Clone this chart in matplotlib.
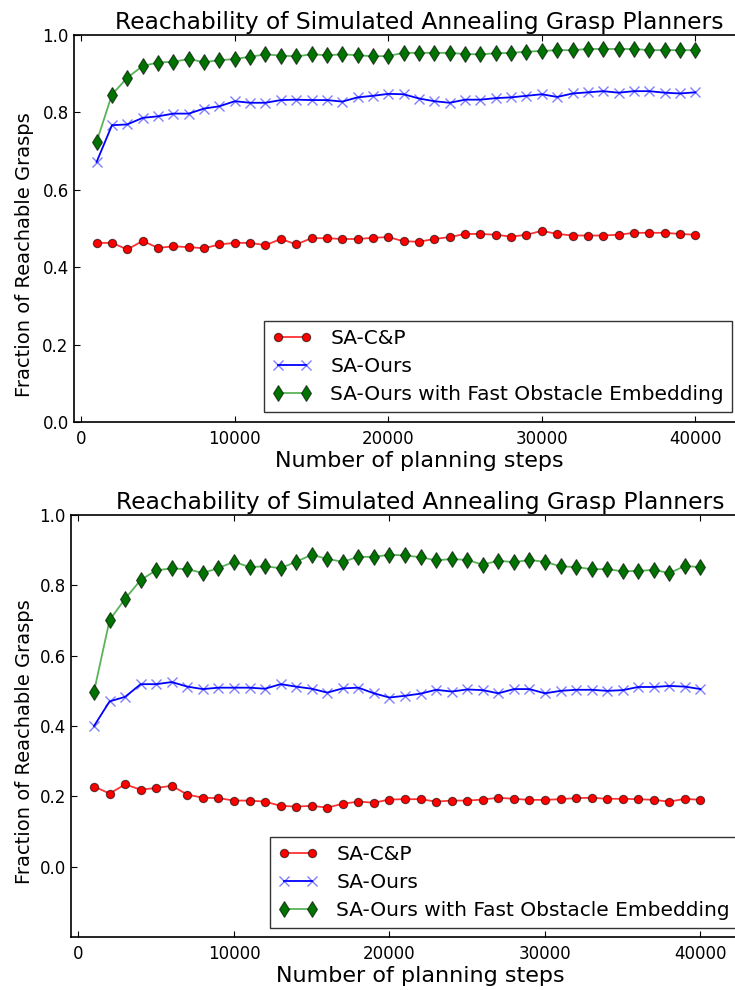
import numpy as np
import matplotlib
matplotlib.use('Agg')
import matplotlib.pyplot as plt

steps = np.arange(1000, 40001, 1000)

# upper panel
cp_top = [0.463, 0.463, 0.446, 0.468, 0.450, 0.454, 0.452, 0.449, 0.459, 0.463,
          0.463, 0.457, 0.473, 0.459, 0.475, 0.475, 0.473, 0.473, 0.476, 0.478,
          0.467, 0.466, 0.473, 0.478, 0.486, 0.486, 0.484, 0.479, 0.484, 0.494,
          0.486, 0.482, 0.482, 0.482, 0.484, 0.489, 0.489, 0.489, 0.486, 0.484]
ours_top = [0.672, 0.767, 0.769, 0.786, 0.790, 0.797, 0.797, 0.810, 0.816, 0.829,
            0.825, 0.825, 0.832, 0.833, 0.832, 0.832, 0.828, 0.839, 0.843, 0.848,
            0.847, 0.836, 0.829, 0.825, 0.833, 0.833, 0.837, 0.839, 0.843, 0.847,
            0.840, 0.849, 0.852, 0.855, 0.851, 0.855, 0.855, 0.851, 0.849, 0.852]
fast_top = [0.724, 0.846, 0.890, 0.920, 0.929, 0.931, 0.938, 0.930, 0.935, 0.938,
            0.944, 0.950, 0.947, 0.945, 0.950, 0.948, 0.950, 0.948, 0.945, 0.946,
            0.954, 0.954, 0.954, 0.954, 0.951, 0.950, 0.953, 0.954, 0.957, 0.959,
            0.961, 0.961, 0.964, 0.964, 0.964, 0.964, 0.961, 0.961, 0.961, 0.961]

# lower panel
cp_bot = [0.228, 0.208, 0.234, 0.219, 0.224, 0.230, 0.205, 0.196, 0.195, 0.188,
          0.188, 0.185, 0.173, 0.171, 0.173, 0.168, 0.179, 0.185, 0.182, 0.191,
          0.192, 0.192, 0.185, 0.188, 0.188, 0.191, 0.196, 0.193, 0.190, 0.190,
          0.192, 0.195, 0.196, 0.193, 0.193, 0.192, 0.190, 0.185, 0.193, 0.190]
ours_bot = [0.400, 0.470, 0.483, 0.519, 0.519, 0.525, 0.512, 0.505, 0.509, 0.509,
            0.509, 0.506, 0.519, 0.512, 0.506, 0.495, 0.507, 0.509, 0.493, 0.481,
            0.486, 0.492, 0.503, 0.498, 0.504, 0.502, 0.493, 0.505, 0.505, 0.493,
            0.500, 0.503, 0.503, 0.500, 0.502, 0.511, 0.511, 0.514, 0.512, 0.505]
fast_bot = [0.498, 0.701, 0.762, 0.815, 0.843, 0.848, 0.846, 0.835, 0.849, 0.867,
            0.852, 0.854, 0.849, 0.867, 0.887, 0.875, 0.867, 0.881, 0.881, 0.887,
            0.885, 0.880, 0.871, 0.875, 0.872, 0.859, 0.870, 0.866, 0.872, 0.867,
            0.854, 0.852, 0.846, 0.846, 0.840, 0.841, 0.844, 0.835, 0.855, 0.852]

labels = ['SA-C&P', 'SA-Ours', 'SA-Ours with Fast Obstacle Embedding']
title = 'Reachability of Simulated Annealing Grasp Planners'

plt.rcParams['font.family'] = 'DejaVu Sans'
plt.rcParams['xtick.direction'] = 'in'
plt.rcParams['ytick.direction'] = 'in'
plt.rcParams['xtick.top'] = True
plt.rcParams['ytick.right'] = True
plt.rcParams['xtick.major.size'] = 4
plt.rcParams['ytick.major.size'] = 4

fig = plt.figure(figsize=(7.35, 9.9), dpi=100)
fig.patch.set_facecolor('white')

ax1 = fig.add_axes([0.1001, 0.5737, 0.94, 0.3909])
ax2 = fig.add_axes([0.0962, 0.0535, 0.952, 0.4263])


def draw(ax, cp, ours, fast, ylim, anchor, ylab_xy):
    ax.plot(steps, cp, '-o', color=(1, 0, 0, 0.8), lw=1.3, ms=6,
            mfc='red', mec=(0, 0, 0, 0.6), mew=0.8, label=labels[0])
    ax.plot(steps, ours, '-x', color='blue', lw=1.3, ms=7,
            mec=(0, 0, 1, 0.5), mew=1.0, label=labels[1])
    ax.plot(steps, fast, '-d', color=(0, 0.55, 0, 0.65), lw=1.3, ms=8,
            mfc=(0, 0.45, 0), mec=(0, 0, 0, 0.6), mew=0.8, label=labels[2])
    ax.set_xlim(-500, 44500)
    ax.set_ylim(*ylim)
    ax.set_xticks([0, 10000, 20000, 30000, 40000])
    ax.set_yticks(np.arange(0, 1.01, 0.2))
    ax.tick_params(labelsize=12)
    ax.tick_params(axis='x', pad=6)
    ax.set_title(title, fontsize=16.8, pad=4)
    ax.set_xlabel('Number of planning steps', fontsize=16, labelpad=2)
    ax.set_ylabel('Fraction of Reachable Grasps', fontsize=14)
    ax.yaxis.set_label_coords(*ylab_xy)
    for s in ax.spines.values():
        s.set_linewidth(1.2)
    leg = ax.legend(loc='lower right', bbox_to_anchor=anchor,
                    bbox_transform=fig.transFigure, borderaxespad=0,
                    numpoints=2, fancybox=False, fontsize=14.5,
                    handlelength=2.0, labelspacing=0.45, borderpad=0.4,
                    handletextpad=0.9)
    leg.get_frame().set_edgecolor('black')
    leg.get_frame().set_linewidth(1.0)


draw(ax1, cp_top, ours_top, fast_top, (0, 1.0), (0.9959, 0.5838), (-0.058, 0.432))
draw(ax2, cp_bot, ours_bot, fast_bot, (-0.2, 1.0), (1.004, 0.0626), (-0.053, 0.462))

fig.savefig('out.png', dpi=100, facecolor='white')
